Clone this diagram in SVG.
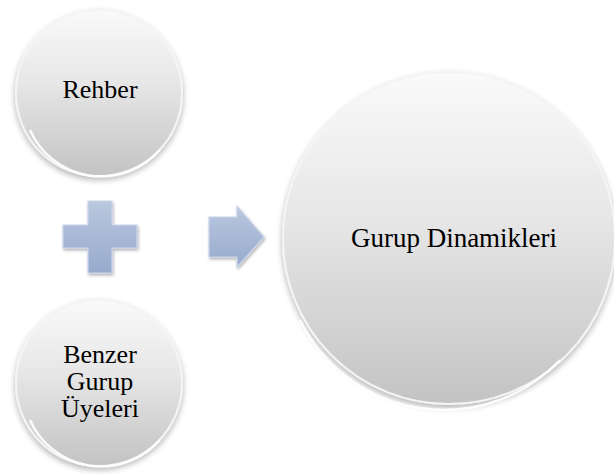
<svg xmlns="http://www.w3.org/2000/svg" width="614" height="474" viewBox="0 0 614 474">
<style>
.lbl{font-family:"Times New Roman","Liberation Serif","DejaVu Serif",serif;font-size:26px;fill:#000;text-anchor:middle}
.ball{fill:url(#gBall);stroke:#f4f4f4;stroke-width:2;filter:url(#sh)}
.rim{fill:none;stroke:#ffffff;stroke-width:2.5;opacity:0.9}
.sym{fill:url(#gSym);stroke:#c9d4e8;stroke-width:1.2;filter:url(#sh2)}
</style>
<defs>
<linearGradient id="gBall" x1="0" y1="0" x2="0" y2="1">
<stop offset="0" stop-color="#fafafa"/>
<stop offset="0.45" stop-color="#e6e6e6"/>
<stop offset="1" stop-color="#c3c3c3"/>
</linearGradient>
<linearGradient id="gSym" x1="0" y1="0" x2="0" y2="1">
<stop offset="0" stop-color="#bac8df"/>
<stop offset="1" stop-color="#97aacd"/>
</linearGradient>
<filter id="sh" x="-20%" y="-20%" width="140%" height="140%">
<feGaussianBlur in="SourceAlpha" stdDeviation="3"/>
<feOffset dx="0" dy="3" result="b"/>
<feComponentTransfer><feFuncA type="linear" slope="0.3"/></feComponentTransfer>
<feMerge><feMergeNode/><feMergeNode in="SourceGraphic"/></feMerge>
</filter>
<filter id="sh2" x="-20%" y="-20%" width="140%" height="140%">
<feGaussianBlur in="SourceAlpha" stdDeviation="1.5"/>
<feOffset dx="1" dy="2" result="b"/>
<feComponentTransfer><feFuncA type="linear" slope="0.3"/></feComponentTransfer>
<feMerge><feMergeNode/><feMergeNode in="SourceGraphic"/></feMerge>
</filter>
</defs>
<rect width="614" height="474" fill="#ffffff"/>

<g id="rehber">
<circle class="ball" cx="99" cy="93" r="83"/>
<path class="rim" d="M 30 130 A 78 78 0 0 0 160 150"/>
<text class="lbl" x="100" y="98">Rehber</text>
</g>

<g id="benzer">
<circle class="ball" cx="99" cy="383" r="83"/>
<path class="rim" d="M 30 420 A 78 78 0 0 0 160 440"/>
<text class="lbl" x="100" y="363">Benzer</text>
<text class="lbl" x="100" y="390">Gurup</text>
<text class="lbl" x="100" y="417">Üyeleri</text>
</g>

<g id="plus">
<path class="sym" d="M88 201 H112 V225 H137 V248 H112 V273 H88 V248 H63 V225 H88 Z"/>
</g>

<g id="connectors">
<path class="sym" d="M209 217 H237 V206 L264 237 L237 267 V257 H209 Z"/>
</g>

<g id="gurup-dinamikleri">
<circle class="ball" cx="449" cy="238" r="166"/>
<path class="rim" d="M 300 320 A 160 160 0 0 0 560 360"/>
<text class="lbl" x="454" y="247" style="font-size:27px">Gurup Dinamikleri</text>
</g>
</svg>
